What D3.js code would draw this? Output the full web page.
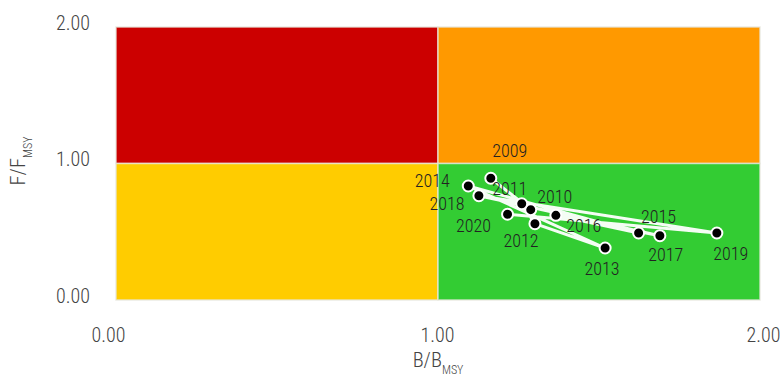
<!DOCTYPE html>
<html>
<head>
<meta charset="utf-8">
<script src="https://cdn.jsdelivr.net/npm/d3@7"></script>
<style>
  html, body { margin: 0; padding: 0; background: #fff; }
  svg { display: block; font-family: "Roboto Condensed", Roboto, "Noto Sans", sans-serif; }
</style>
</head>
<body>
<svg id="chart" width="783" height="378"></svg>
<script>
// Stock status trajectory: biomass ratio vs fishing mortality ratio by year
const years = [2009, 2010, 2011, 2012, 2013, 2014, 2015, 2016, 2017, 2018, 2019, 2020];
const bRatio = [1.164, 1.288, 1.260, 1.301, 1.519, 1.094, 1.623, 1.366, 1.689, 1.127, 1.866, 1.216];
const fRatio = [0.892, 0.662, 0.705, 0.559, 0.381, 0.835, 0.491, 0.620, 0.471, 0.764, 0.491, 0.628];
const xTicks = [0, 1, 2];
const yTicks = [0, 1, 2];

// Label placement around each point (dx, dy from the marker)
const labelOffsets = {
  2009: [19, -28], 2010: [24, -13], 2011: [-12, -15], 2012: [-14, 17],
  2013: [-3, 21], 2014: [-36, -5], 2015: [20, -16], 2016: [28, 10],
  2017: [6, 19], 2018: [-32, 8], 2019: [14, 21], 2020: [-34, 11]
};

const svg = d3.select("#chart");
const x = d3.scaleLinear().domain([0, 2]).range([116, 760]);
const y = d3.scaleLinear().domain([0, 2]).range([300, 27]);

// Status quadrants
const quadrants = [
  { x0: 0, x1: 1, y0: 1, y1: 2, fill: "#cc0000" },
  { x0: 1, x1: 2, y0: 1, y1: 2, fill: "#ff9900" },
  { x0: 0, x1: 1, y0: 0, y1: 1, fill: "#ffcc00" },
  { x0: 1, x1: 2, y0: 0, y1: 1, fill: "#33cc33" }
];
svg.append("g").selectAll("rect").data(quadrants).join("rect")
  .attr("x", d => x(d.x0)).attr("y", d => y(d.y1))
  .attr("width", d => x(d.x1) - x(d.x0)).attr("height", d => y(d.y0) - y(d.y1))
  .attr("fill", d => d.fill)
  .attr("stroke", "rgba(230,230,220,0.8)").attr("stroke-width", 1.5);

// Axes
const xAxis = svg.append("g").attr("transform", "translate(0,328)")
  .call(d3.axisBottom(x).tickValues(xTicks).tickFormat(d3.format(".2f")).tickSize(0).tickPadding(0));
xAxis.select(".domain").remove();
xAxis.selectAll("text")
  .attr("font-family", "'Roboto Condensed', Roboto, sans-serif").attr("font-size", 20).attr("font-weight", 300)
  .attr("fill", "#444").attr("dy", "0.71em")
  .attr("dx", d => d === 0 ? -8 : d === 2 ? 3 : -1);

const yAxis = svg.append("g").attr("transform", "translate(90,0)")
  .call(d3.axisLeft(y).tickValues(yTicks).tickFormat(d3.format(".2f")).tickSize(0).tickPadding(0));
yAxis.select(".domain").remove();
yAxis.selectAll("text")
  .attr("font-family", "'Roboto Condensed', Roboto, sans-serif").attr("font-size", 20).attr("font-weight", 300)
  .attr("fill", "#444").attr("dy", "0.32em").attr("y", -4);

// Axis titles with subscripts
const xTitle = svg.append("text")
  .attr("x", x(1)).attr("y", 367).attr("text-anchor", "middle")
  .attr("font-size", 20.5).attr("font-weight", 300).attr("fill", "#444");
xTitle.append("tspan").text("B/B");
xTitle.append("tspan").attr("font-size", 12).attr("dy", 7).text("MSY");

const yTitle = svg.append("text")
  .attr("transform", "translate(25,161) rotate(-90)").attr("text-anchor", "middle")
  .attr("font-size", 20.5).attr("font-weight", 300).attr("fill", "#444");
yTitle.append("tspan").text("F/F");
yTitle.append("tspan").attr("font-size", 12).attr("dy", 7).text("MSY");

// Trajectory
const pts = years.map((yr, i) => ({ year: yr, b: bRatio[i], f: fRatio[i] }));
const line = d3.line().x(d => x(d.b)).y(d => y(d.f));
svg.append("path").datum(pts).attr("d", line)
  .attr("fill", "none").attr("stroke", "rgba(255,255,255,0.95)")
  .attr("stroke-width", 3).attr("stroke-linejoin", "round");

svg.append("g").selectAll("circle").data(pts).join("circle")
  .attr("cx", d => x(d.b)).attr("cy", d => y(d.f)).attr("r", 5.5)
  .attr("fill", "#000").attr("stroke", "#fff").attr("stroke-width", 2);

svg.append("g").selectAll("text").data(pts).join("text")
  .attr("x", d => x(d.b) + labelOffsets[d.year][0])
  .attr("y", d => y(d.f) + labelOffsets[d.year][1])
  .attr("dy", "0.35em").attr("text-anchor", "middle")
  .attr("font-size", 18).attr("font-weight", 300).attr("fill", "#222")
  .text(d => d.year);
</script>
</body>
</html>
